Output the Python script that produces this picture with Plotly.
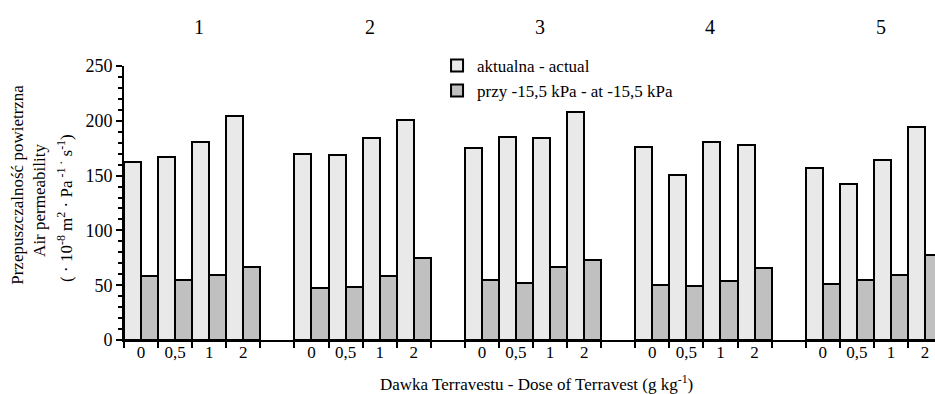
import plotly.graph_objects as go

# Groups (soil objects) and Terravest doses within each group
groups = ["1", "2", "3", "4", "5"]
doses = ["0", "0,5", "1", "2"]

# Air permeability (10^-8 m2 Pa-1 s-1), one list per group, dose order as above
actual = [
    [162, 167, 181, 204],
    [170, 169, 184, 201],
    [175, 185, 184, 208],
    [176, 151, 181, 178],
    [157, 142, 164, 194],
]
at_155kpa = [
    [58, 55, 59, 67],
    [47, 48, 58, 75],
    [55, 52, 67, 73],
    [50, 49, 54, 66],
    [51, 55, 59, 78],
]

FONT = "'Liberation Serif', 'Times New Roman', Times, serif"
SLOTS_PER_GROUP = len(doses) + 1  # one empty slot between groups

xs, y_act, y_low, dose_lbl = [], [], [], []
for g in range(len(groups)):
    for d in range(len(doses)):
        xs.append(g * SLOTS_PER_GROUP + d)
        y_act.append(actual[g][d])
        y_low.append(at_155kpa[g][d])
        dose_lbl.append(doses[d])

n_slots = len(groups) * SLOTS_PER_GROUP - 1

fig = go.Figure()
fig.add_trace(go.Bar(
    x=xs, y=y_act, name="aktualna - actual",
    marker=dict(color="#E9E9E9", line=dict(color="black", width=2)),
))
fig.add_trace(go.Bar(
    x=xs, y=y_low, name="przy -15,5 kPa - at -15,5 kPa",
    marker=dict(color="#C0C0C0", line=dict(color="black", width=2)),
))
# invisible trace carrying the dose labels on a second x axis
fig.add_trace(go.Scatter(x=xs, y=[0] * len(xs), xaxis="x2", mode="markers",
                         marker=dict(opacity=0), showlegend=False, hoverinfo="skip"))

boundaries = [i - 0.5 for i in range(n_slots + 1)]
x_range = [-0.5, n_slots - 0.5 - 7 / 34]

fig.update_layout(
    width=935, height=394,
    margin=dict(l=124, r=0, t=66, b=54),
    paper_bgcolor="white", plot_bgcolor="white",
    font=dict(family=FONT, size=16, color="black"),
    barmode="group", bargap=0, bargroupgap=0,
    showlegend=True,
    legend=dict(x=0.386, y=1.066, xanchor="left", yanchor="top",
                bgcolor="rgba(0,0,0,0)", font=dict(size=17, family=FONT),
                itemwidth=30, tracegroupgap=0),
    xaxis=dict(range=x_range, tickmode="array", tickvals=boundaries,
               ticktext=[""] * len(boundaries), ticks="outside", ticklen=6,
               tickwidth=2, tickcolor="black", showline=True, linecolor="black",
               linewidth=2, showgrid=False, zeroline=False),
    xaxis2=dict(range=x_range, overlaying="x", side="bottom", tickmode="array",
                tickvals=xs, ticktext=dose_lbl, ticks="", showline=False,
                showgrid=False, zeroline=False, tickfont=dict(size=17, family=FONT)),
    yaxis=dict(range=[0, 250], tickmode="array", tickvals=[0, 50, 100, 150, 200, 250],
               ticks="outside", ticklen=6, tickwidth=2, tickcolor="black",
               showline=True, linecolor="black", linewidth=2, showgrid=False,
               zeroline=False, tickfont=dict(size=18, family=FONT),
               minor=dict(dtick=10, ticks="outside", ticklen=4, tickwidth=2,
                          tickcolor="black", showgrid=False)),
)

# group numbers above the bars
for g, name in enumerate(groups):
    fig.add_annotation(x=g * SLOTS_PER_GROUP + (len(doses) - 1) / 2, y=1.142,
                       xref="x", yref="paper", text=name, showarrow=False,
                       xanchor="center", yanchor="middle",
                       xshift=7, font=dict(size=20, family=FONT))

# axis titles
fig.add_annotation(x=0.509, y=-0.157, xref="paper", yref="paper",
                   text="Dawka Terravestu - Dose of Terravest (g kg<sup>-1</sup>)",
                   showarrow=False, xanchor="center", yanchor="middle",
                   font=dict(size=17, family=FONT))
y_title = [
    ("Przepuszczalność powietrzna", -0.1309, 0.566),
    ("Air permeability", -0.1037, 0.511),
    ("( · 10<sup>-8</sup> m<sup>2</sup> · Pa<sup> -1 ·</sup> s<sup>-1</sup>)", -0.0728, 0.482),
]
for text, px, py in y_title:
    fig.add_annotation(x=px, y=py, xref="paper", yref="paper", text=text,
                       textangle=-90, showarrow=False, xanchor="center",
                       yanchor="middle", font=dict(size=17, family=FONT))

fig.write_html("out.html")
